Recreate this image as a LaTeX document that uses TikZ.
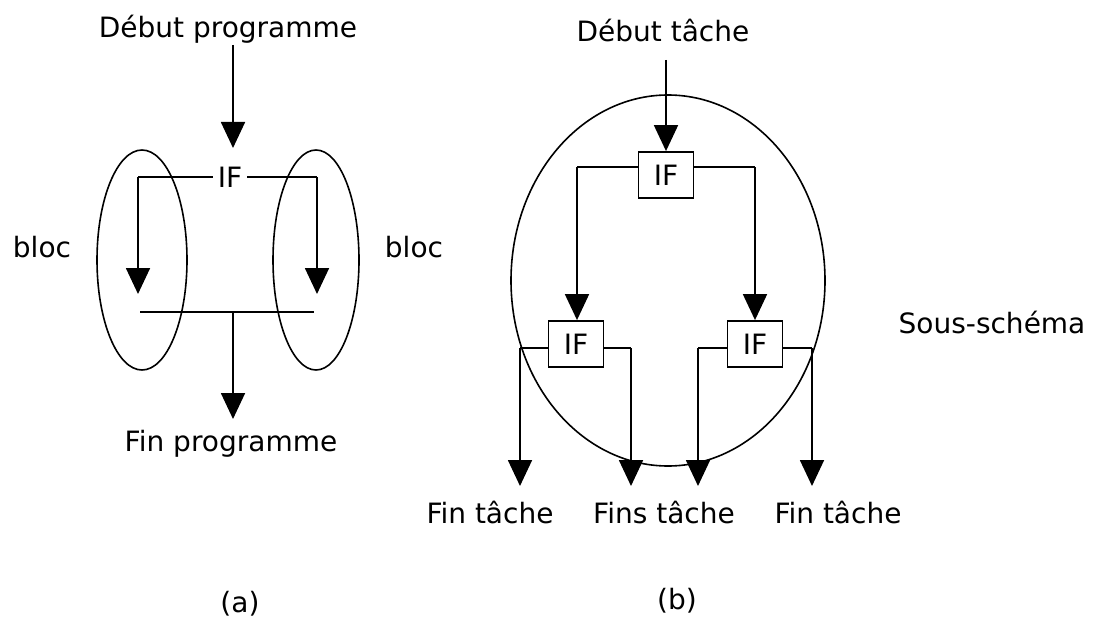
\documentclass[tikz,border=0pt]{standalone}
\usepackage{fontspec}
\setmainfont{DejaVu Sans}
\usetikzlibrary{arrows.meta}
\begin{document}
\begin{tikzpicture}[x=1pt,y=-1pt,
  lbl/.style={inner sep=0pt,font=\fontsize{28}{34}\selectfont},
  ifbox/.style={draw,line width=1.8pt,minimum width=55pt,minimum height=46pt,inner sep=0pt,font=\fontsize{28}{34}\selectfont},
  conn/.style={line width=1.8pt},
  arr/.style={line width=1.8pt,-{Triangle[width=24pt,length=26pt]}},
  outline/.style={line width=1.6pt}]
\useasboundingbox[fill=white] (0,0) rectangle (1100,623);

% ---------- (a) ----------
\node[lbl] (debp) at (228,29) {Début programme};
\node[lbl,inner xsep=5pt] (ifa) at (230,177) {IF};
\node[lbl] (finp) at (231,444) {Fin programme};
\node[lbl] (blocl) at (42,247) {bloc};
\node[lbl] (blocr) at (414,247) {bloc};
\node[lbl] (capa) at (240,604) {(a)};

\coordinate (al1) at (138,177);
\coordinate (al2) at (138,294);
\coordinate (ar1) at (317,177);
\coordinate (ar2) at (317,294);
\coordinate (jl) at (140,312);
\coordinate (jr) at (314,312);
\coordinate (jm) at (233,312);
\coordinate (a0) at (233,45);

\draw[arr] (a0) -- (233,148);
\draw[conn] (ifa.west) -- (al1);
\draw[arr] (al1) -- (al2);
\draw[conn] (ifa.east) -- (ar1);
\draw[arr] (ar1) -- (ar2);
\draw[conn] (jl) -- (jr);
\draw[arr] (jm) -- (233,419);

\draw[outline] (142,260) ellipse [x radius=45, y radius=110];
\draw[outline] (316,260) ellipse [x radius=43, y radius=110];

% ---------- (b) ----------
\node[lbl] (debt) at (663,31) {Début tâche};
\draw[outline] (668,280.5) ellipse [x radius=157, y radius=185.5];
\node[ifbox,fill=white] (if1) at (666,175) {IF};
\node[ifbox,fill=white] (if2) at (576,344) {IF};
\node[ifbox,fill=white] (if3) at (755,344) {IF};

\node[lbl] (fin1) at (490,512) {Fin tâche};
\node[lbl] (fins) at (664,512) {Fins tâche};
\node[lbl] (fin2) at (838,512) {Fin tâche};
\node[lbl] (sous) at (992,322) {Sous-schéma};
\node[lbl] (capb) at (677,601) {(b)};

\coordinate (b0) at (666,60);
\draw[arr] (b0) -- (if1.north);

\coordinate (t1) at (577,167);
\coordinate (t2) at (755,167);
\draw[conn] (if1.west |- t1) -- (t1);
\draw[arr] (t1) -- (if2.north -| t1);
\draw[conn] (if1.east |- t2) -- (t2);
\draw[arr] (t2) -- (if3.north -| t2);

\coordinate (l1) at (520,348);
\coordinate (l2) at (631,348);
\coordinate (r1) at (698,348);
\coordinate (r2) at (812,348);
\draw[conn] (if2.west |- l1) -- (l1);
\draw[arr] (l1) -- (520,486);
\draw[conn] (if2.east |- l2) -- (l2);
\draw[arr] (l2) -- (631,486);
\draw[conn] (if3.west |- r1) -- (r1);
\draw[arr] (r1) -- (698,486);
\draw[conn] (if3.east |- r2) -- (r2);
\draw[arr] (r2) -- (812,486);
\end{tikzpicture}
\end{document}
